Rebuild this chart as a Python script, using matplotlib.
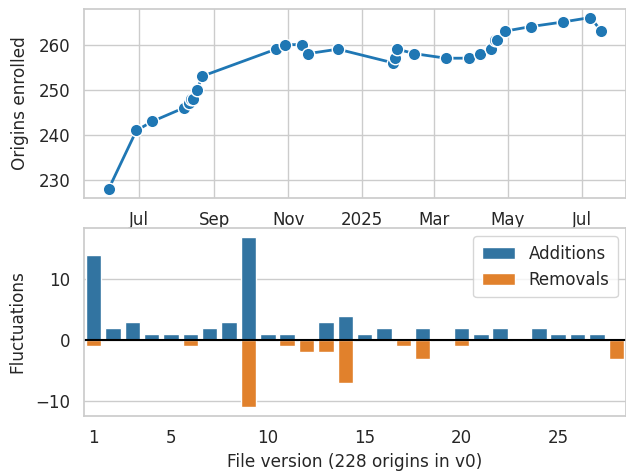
import numpy as np
import pandas as pd
import matplotlib
matplotlib.use("Agg")
import matplotlib.pyplot as plt
import matplotlib.dates as mdates
import seaborn as sns

# dates of each file version (v0 .. v28)
dates = ["2024-06-06", "2024-06-29", "2024-07-12", "2024-08-07", "2024-08-11",
         "2024-08-13", "2024-08-15", "2024-08-18", "2024-08-22", "2024-10-22",
         "2024-10-29", "2024-11-12", "2024-11-17", "2024-12-12", "2025-01-26",
         "2025-01-28", "2025-01-30", "2025-02-13", "2025-03-11", "2025-03-30",
         "2025-04-08", "2025-04-17", "2025-04-20", "2025-04-22", "2025-04-29",
         "2025-05-20", "2025-06-15", "2025-07-08", "2025-07-17"]
enrolled = [228, 241, 243, 246, 247, 248, 248, 250, 253, 259, 260, 260, 258, 259,
            256, 257, 259, 258, 257, 257, 258, 259, 261, 261, 263, 264, 265, 266, 263]

versions = list(range(1, 29))
additions = [14, 2, 3, 1, 1, 1, 2, 3, 17, 1, 1, 0, 3, 4, 1, 2, 0, 2, 0, 2, 1, 2, 0, 2, 1, 1, 1, 0]
removals = [1, 0, 0, 0, 0, 1, 0, 0, 11, 0, 1, 2, 2, 7, 0, 0, 1, 3, 0, 1, 0, 0, 0, 0, 0, 0, 0, 3]

sns.set_theme(style="whitegrid", palette="tab10",
              rc={"xtick.labelsize": 12, "ytick.labelsize": 12,
                  "legend.fontsize": 12, "axes.labelsize": 12.2})
pal = sns.color_palette("tab10")

fig = plt.figure(figsize=(6.26, 4.71), dpi=100)
ax1 = fig.add_axes([0.134, 0.580, 0.866, 0.401])
ax2 = fig.add_axes([0.134, 0.117, 0.866, 0.399])

# courbe du nombre d'origines
d = pd.to_datetime(dates)
ax1.plot(d, enrolled, marker="o", color=pal[0], lw=2, markersize=9,
         markeredgecolor="white", markeredgewidth=1)
ax1.set_ylabel("Origins enrolled", labelpad=7)
loc = mdates.AutoDateLocator()
fmt = mdates.ConciseDateFormatter(loc, show_offset=False)
ax1.xaxis.set_major_locator(loc)
ax1.xaxis.set_major_formatter(fmt)
ax1.set_yticks([230, 240, 250, 260])

# barres ajouts / retraits
c_add = sns.desaturate(pal[0], 0.75)
c_rem = sns.desaturate(pal[1], 0.75)
ax2.bar(versions, additions, width=0.8, color=c_add, label="Additions")
ax2.bar(versions, [-r for r in removals], width=0.8, color=c_rem, label="Removals")
ax2.axhline(0, color="black", lw=1.5)
ax2.set_xlim(0.5, 28.5)
ax2.set_xticks([1, 5, 10, 15, 20, 25])
ax2.grid(False, axis="x")
ax2.set_ylabel("Fluctuations", labelpad=7)
ax2.set_xlabel("File version (228 origins in v0)")
ax2.legend(loc="upper right", borderpad=0.5)

fig.savefig("out.png", dpi=100)
